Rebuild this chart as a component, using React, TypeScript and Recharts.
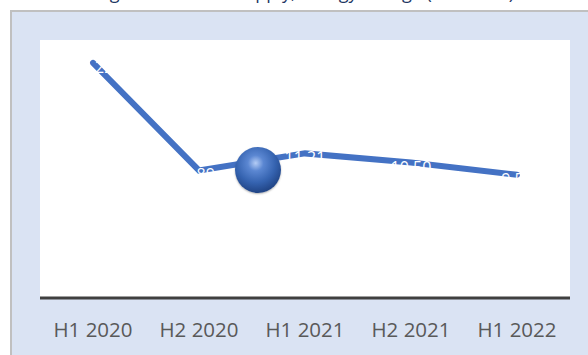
import { LineChart, Line, XAxis, YAxis, CartesianGrid, LabelList } from 'recharts';

const periods = ['H1 2020', 'H2 2020', 'H1 2021', 'H2 2021', 'H1 2022'];
const costValues = [18.22, 9.89, 11.21, 10.5, 9.55];

const data = periods.map((name, i) => ({ name, cost: costValues[i] }));

const font = '"Open Sans", "Noto Sans", sans-serif';

const ValueLabel = (props: any) => {
  const { x, y, value } = props;
  return (
    <text x={x} y={y + 10} fill="#ffffff" textAnchor="middle" fontSize={16} fontFamily={font}>
      {Number(value).toFixed(2)}
    </text>
  );
};

export default function App() {
  return (
    <div style={{ position: 'absolute', left: 0, top: 0, width: 588, height: 355, overflow: 'hidden', background: '#fff' }}>
      <div
        style={{
          position: 'absolute', left: 0, top: -20, width: 610, textAlign: 'center',
          fontFamily: font, fontSize: 18, color: '#1f3864', whiteSpace: 'nowrap',
        }}
      >
        Figure 6: Cost of supply, Energy Charge (US¢/kWh)
      </div>
      <div
        style={{
          position: 'absolute', left: 10, top: 10, width: 600, height: 400, background: '#dae3f3',
          borderLeft: '2px solid #c0c0c0', borderTop: '2px solid #c0c0c0',
        }}
      />
      <div style={{ position: 'absolute', left: 0, top: 0 }}>
        <LineChart width={588} height={355} data={data} margin={{ top: 40, right: 18, bottom: 0, left: 40 }}>
          <CartesianGrid fill="#ffffff" stroke="none" horizontal={false} vertical={false} />
          <XAxis
            dataKey="name"
            height={57}
            padding={{ left: 53, right: 53 }}
            axisLine={{ stroke: '#404040', strokeWidth: 3 }}
            tickLine={false}
            tickMargin={18}
            tick={{ fill: '#595959', fontSize: 20.5, fontFamily: font }}
          />
          <YAxis hide domain={[0, 20]} />
          <Line
            type="linear"
            dataKey="cost"
            stroke="#4472c4"
            strokeWidth={6}
            strokeLinecap="round"
            dot={false}
            activeDot={false}
            isAnimationActive={false}
          >
            <LabelList dataKey="cost" content={ValueLabel} />
          </Line>
        </LineChart>
      </div>
      <div
        style={{
          position: 'absolute', left: 235, top: 147, width: 46, height: 46, borderRadius: '50%',
          background: 'radial-gradient(circle at 45% 35%, #b4ccf5 0%, #5b87d2 20%, #3563b0 50%, #1d3f7e 80%, #0c1d40 100%)',
          boxShadow: '0 1px 2px rgba(0,0,0,0.3)',
        }}
      />
    </div>
  );
}
